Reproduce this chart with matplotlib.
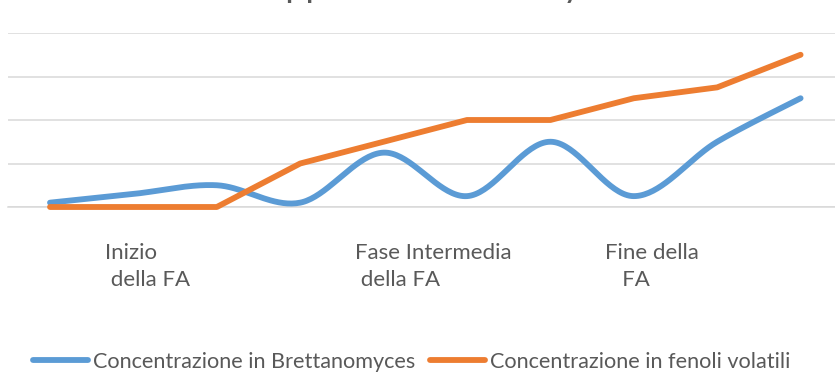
import numpy as np
import matplotlib
matplotlib.use("Agg")
import matplotlib.pyplot as plt
from matplotlib.lines import Line2D
from matplotlib.transforms import blended_transform_factory

plt.rcParams["font.family"] = ["Lato", "DejaVu Sans"]

# ---- data -------------------------------------------------------------
title = "Sviluppo di Brettanomyces"
n_steps = 10
brett = [0.1, 0.3, 0.5, 0.1, 1.25, 0.25, 1.5, 0.25, 1.5, 2.5]
fenoli = [0.0, 0.0, 0.0, 1.0, 1.5, 2.0, 2.0, 2.5, 2.75, 3.5]
phase_labels = ["Inizio\n della FA", "Fase Intermedia\n della FA", "Fine della\n   FA"]
phase_steps = [0, 3, 6]
series_names = ["Concentrazione in Brettanomyces", "Concentrazione in fenoli volatili"]

BLUE = "#5B9BD5"
ORANGE = "#ED7D31"
GRID = "#D9D9D9"
TEXT = "#595959"


def smooth_curve(xs, ys, per_seg=40):
    """Bezier smoothing through every point (Catmull-Rom style control points)."""
    p = np.column_stack([xs, ys]).astype(float)
    padded = np.vstack([p[0], p, p[-1]])
    t = np.linspace(0, 1, per_seg)[:, None]
    out = []
    for i in range(len(p) - 1):
        p0, p1, p2, p3 = padded[i], padded[i + 1], padded[i + 2], padded[i + 3]
        c1 = p1 + (p2 - p0) / 6.0
        c2 = p2 - (p3 - p1) / 6.0
        seg = ((1 - t) ** 3) * p1 + 3 * ((1 - t) ** 2) * t * c1 + 3 * (1 - t) * t ** 2 * c2 + t ** 3 * p2
        out.append(seg if i == 0 else seg[1:])
    out = np.vstack(out)
    return out[:, 0], out[:, 1]


W, H = 835, 372
fig = plt.figure(figsize=(W / 100, H / 100), dpi=100)
ax = fig.add_axes([8.3 / W, (H - 207) / H, 834 / W, 174 / H])

x = np.arange(n_steps)
ax.set_xlim(-0.5, n_steps - 0.5)
ax.set_ylim(0, 4)
ax.set_yticks(np.arange(0, 5))
ax.set_xticks([])
ax.tick_params(left=False, labelleft=False)
ax.grid(axis="y", color=GRID, linewidth=1.1)
ax.set_axisbelow(True)
for side in ["left", "right", "top"]:
    ax.spines[side].set_visible(False)
ax.spines["bottom"].set_color(GRID)
ax.spines["bottom"].set_linewidth(1.1)

bx, by = smooth_curve(x, brett)
ax.plot(bx, by, color=BLUE, lw=4.2, solid_capstyle="round", solid_joinstyle="round",
        zorder=3, clip_on=False)
ax.plot(x, fenoli, color=ORANGE, lw=4.2, solid_capstyle="round", solid_joinstyle="round",
        zorder=4, clip_on=False)

# phase labels under the axis (baseline of the second line)
trans = blended_transform_factory(ax.transData, fig.transFigure)
for lab, step in zip(phase_labels, phase_steps):
    ax.text(step + 0.66, (H - 286) / H, lab, transform=trans, ha="left", va="baseline",
            fontsize=16, color=TEXT, linespacing=1.42, multialignment="left")

# title (sits at the very top edge)
fig.text(422 / W, 1 + 2.5 / H, title, ha="center", va="baseline", fontsize=26, color=TEXT)

handles = [Line2D([], [], color=BLUE, lw=4.2, solid_capstyle="round"),
           Line2D([], [], color=ORANGE, lw=4.2, solid_capstyle="round")]
fig.legend(handles, series_names, loc="center left", bbox_to_anchor=(33 / W, 1 - 362 / H),
           ncol=2, frameon=False, fontsize=15.6, labelcolor=TEXT, handlelength=2.53,
           handletextpad=0.23, columnspacing=0.7, borderpad=0, borderaxespad=0)

fig.savefig("out.png", dpi=100)
